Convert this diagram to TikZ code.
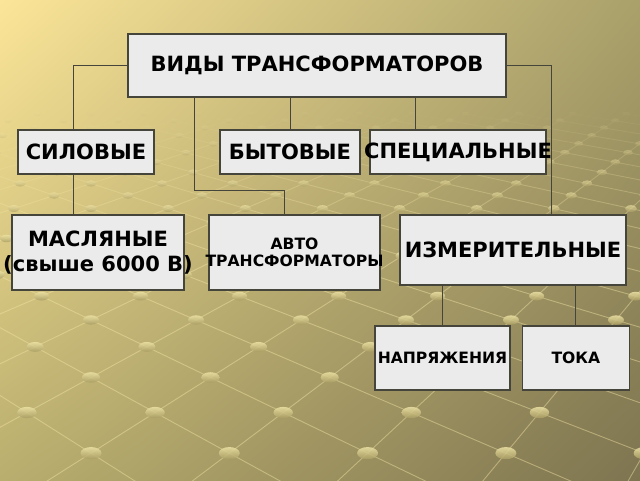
\documentclass[tikz,border=0pt]{standalone}
\usepackage{fontspec}
\setmainfont{DejaVu Sans}
\usetikzlibrary{positioning,shadings}
\definecolor{bgtl}{HTML}{FBE598}
\definecolor{bgtr}{HTML}{A9A06A}
\definecolor{bgbl}{HTML}{B9AE6E}
\definecolor{bgbr}{HTML}{7E7450}
\definecolor{boxfill}{HTML}{EBEBEB}
\definecolor{boxline}{HTML}{45453C}
\definecolor{gridc}{HTML}{F3E6A6}
\definecolor{dotlight}{HTML}{EDE2A4}
\definecolor{dotdark}{HTML}{A89C62}

\begin{document}
\begin{tikzpicture}[x=1pt, y=1pt,
    kind/.style={draw=boxline, fill=boxfill, line width=1.4pt, inner sep=0pt, align=center,
      font=\bfseries\fontsize{21}{25}\selectfont},
    small/.style={font=\bfseries\fontsize{15.6}{17}\selectfont},
    link/.style={draw=boxline, line width=1pt},
    gridline/.style={draw=gridc, line width=0.9pt}]
      % background
      \useasboundingbox (0,0) rectangle (640,480);
      \shade[upper left=bgtl, upper right=bgtr, lower left=bgbl, lower right=bgbr] (0,0) rectangle (640,480);
      \begin{scope}
        \clip (0,0) rectangle (640,480);
        \foreach \k in {-16,...,4}{
          \pgfmathsetmacro\da{1000/(2.381-0.1433*\k)}
          \pgfmathsetmacro\db{1000/(2.381-0.1433*(\k+1))}
          \pgfmathsetmacro\off{0.125*mod(\k+20,2)}
          \pgfmathsetmacro\op{min(0.45,(\k+17)/14*0.45)}
          \foreach \m in {-3,...,12}{
            \draw[gridline, opacity=\op] ({91+(0.25*\m+\off)*\da}, {580-\da}) -- ({91+(0.25*\m+\off+0.125)*\db}, {580-\db});
            \draw[gridline, opacity=\op] ({91+(0.25*\m+\off)*\da}, {580-\da}) -- ({91+(0.25*\m+\off-0.125)*\db}, {580-\db});
          }
        }
        \foreach \k in {-16,...,5}{
          \pgfmathsetmacro\da{1000/(2.381-0.1433*\k)}
          \pgfmathsetmacro\off{0.125*mod(\k+20,2)}
          \pgfmathsetmacro\op{min(0.85,(\k+17)/14*0.85)}
          \foreach \m in {-3,...,12}{
            \shade[top color=dotlight, bottom color=dotdark, opacity=\op]
              ({91+(0.25*\m+\off)*\da}, {580-\da}) ellipse ({0.019*\da} and {0.011*\da});
          }
        }
      \end{scope}

      % boxes (long texts stick out of their boxes)
      \node[kind, minimum width=378, minimum height=63] (0) at (317,414.5) {ВИДЫ ТРАНСФОРМАТОРОВ};
      \node[kind, minimum width=136, minimum height=44] (1) at (86,328) {СИЛОВЫЕ};
      \node[kind, minimum width=140, minimum height=44] (2) at (290,328) {БЫТОВЫЕ};
      \node[kind, minimum width=176, minimum height=44] (3) at (458,328) {\makebox[0pt]{СПЕЦИАЛЬНЫЕ}};
      \node[kind, minimum width=172, minimum height=75] (4) at (98,227.5) {\makebox[0pt]{МАСЛЯНЫЕ}\\\makebox[0pt]{(свыше 6000 В)}};
      \node[kind, small, minimum width=171, minimum height=75] (5) at (294.5,227.5) {\makebox[0pt]{АВТО}\\\makebox[0pt]{ТРАНСФОРМАТОРЫ}};
      \node[kind, minimum width=226, minimum height=70] (6) at (513,230) {ИЗМЕРИТЕЛЬНЫЕ};
      \node[kind, small, minimum width=135, minimum height=64] (7) at (442.5,122) {НАПРЯЖЕНИЯ};
      \node[kind, small, minimum width=107, minimum height=64] (8) [right=11 of 7] {ТОКА};

      % connectors
      \draw[link] (0.west) -| ([xshift=-13]1.north);
      \draw[link] ([xshift=-13]1.south) -- ([xshift=-13]1.south |- 4.north);
      \draw[link] (2.north) -- (2.north |- 0.south);
      \draw[link] ([xshift=-43]3.north) -- ([xshift=-43]3.north |- 0.south);
      \draw[link] ([xshift=-123]0.south) -- ++(0,-93) -| ([xshift=-10]5.north);
      \draw[link] (0.east) -| ([xshift=38]6.north);
      \draw[link] (7.north) -- (7.north |- 6.south);
      \draw[link] (8.north) -- (8.north |- 6.south);
\end{tikzpicture}
\end{document}
